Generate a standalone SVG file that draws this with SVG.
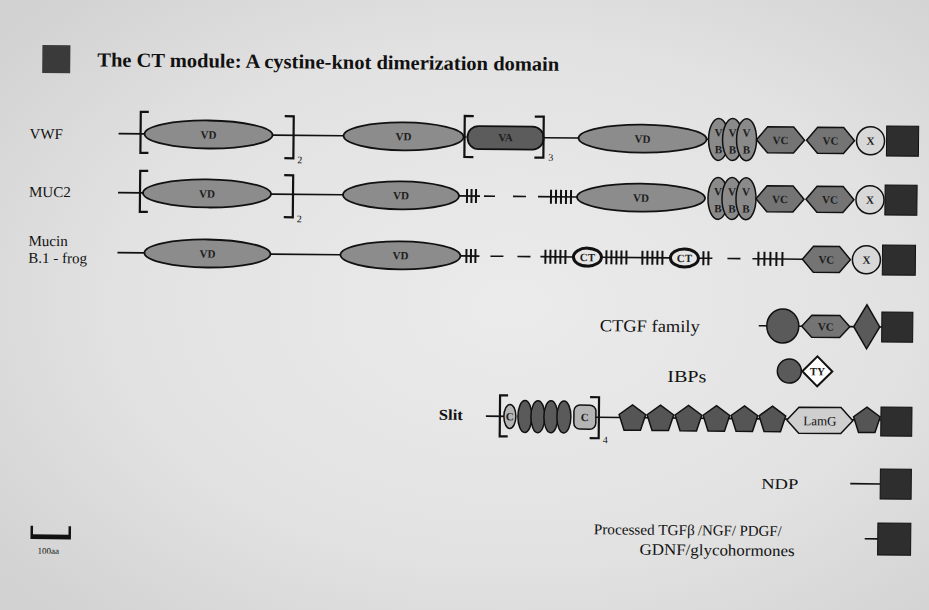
<svg xmlns="http://www.w3.org/2000/svg" xmlns:xlink="http://www.w3.org/1999/xlink" width="929" height="610" viewBox="0 0 929 610">
<style>
.ln{stroke:#111;stroke-width:1.6;fill:none}
.tk{stroke:#111;stroke-width:2;fill:none}
.br{stroke:#111;stroke-width:2.2;fill:none}
.vd{fill:#8c8c8c;stroke:#111;stroke-width:1.8}
.va{fill:#5c5c5c;stroke:#111;stroke-width:1.8}
.vb{fill:#8a8a8a;stroke:#111;stroke-width:1.5}
.vc{fill:#747474;stroke:#111;stroke-width:1.5}
.cx{fill:#d8d8d8;stroke:#111;stroke-width:1.5}
.sq{fill:#2e2e2e;stroke:#111;stroke-width:1}
.dk{fill:#5a5a5a;stroke:#111;stroke-width:1.5}
.lt{fill:#b4b4b4;stroke:#111;stroke-width:1.5}
.ctk{fill:#e6e6e6;stroke:#111;stroke-width:3}
.t{font-family:"Liberation Serif","Times New Roman",serif;fill:#111}
.lab{font-size:15px}
.in{font-size:11px;font-weight:bold;text-anchor:middle;fill:#1e1e1e}
.sub{font-size:10px}
</style>
<defs>
<polygon id="pent" points="0,-12.7 13.3,-3 8.2,12.7 -8.2,12.7 -13.3,-3" fill="#555" stroke="#111" stroke-width="1.5"/>
<radialGradient id="bg" cx="0.55" cy="0.5" r="0.7">
<stop offset="0" stop-color="#ebebeb"/>
<stop offset="0.6" stop-color="#e2e2e2"/>
<stop offset="1" stop-color="#d2d2d2"/>
</radialGradient>
</defs>
<rect width="929" height="610" fill="url(#bg)"/>
<g transform="rotate(0.55 470 300)">
<g id="title">
<rect x="40" y="49" width="28" height="28" fill="#3a3a3a"/>
<text class="t" x="95" y="70" font-size="20" font-weight="bold" textLength="462" lengthAdjust="spacingAndGlyphs">The CT module: A cystine-knot dimerization domain</text>
</g>
<g id="connectors">
<path class="ln" d="M117,137H143 M271,137H342 M462,137H465 M542,137H577 M705,137H707"/>
<path class="ln" d="M117,196H142 M270,196H342 M458,196H479 M537,196H576"/>
<path class="ln" d="M483,196H494 M512,196H525"/>
<path class="tk" d="M466,189V203 M470.5,189V203 M475,189V203 M550,189V203 M555,189V203 M560,189V203 M565,189V203 M570,189V203"/>
<path class="ln" d="M117,256H144 M270,256H340 M460,256H479 M540,256H573 M601,256H670 M698,256H712 M752,256H802"/>
<path class="ln" d="M490,256H503 M517,256H530 M727,256H740"/>
<path class="tk" d="M466,249V263 M470.5,249V263 M475,249V263 M545,249V263 M550,249V263 M555,249V263 M560,249V263 M565,249V263 M606,249V263 M611,249V263 M616,249V263 M621,249V263 M626,249V263 M642,249V263 M647,249V263 M652,249V263 M657,249V263 M662,249V263 M703,249V263 M708,249V263 M758,249V263 M764,249V263 M770,249V263 M776,249V263 M782,249V263"/>
<path class="ln" d="M759,323H803 M850,323H882"/>
<path class="ln" d="M487,416H510 M597,416H882"/>
<path class="ln" d="M852,480H882 M867,535H880"/>
</g>
<g id="vwf">
<text class="t lab" x="28" y="143">VWF</text>
<path class="br" d="M147,115H139V156H147"/>
<ellipse class="vd" cx="207" cy="137" rx="64" ry="14"/><text class="t in" x="207" y="141">VD</text>
<path class="br" d="M283,118H292V160H283"/>
<text class="t sub" x="296" y="165">2</text>
<ellipse class="vd" cx="402" cy="137" rx="60" ry="14"/><text class="t in" x="402" y="141">VD</text>
<path class="br" d="M472,116H463V157H472"/>
<rect class="va" x="466" y="126" width="76" height="23" rx="11"/><text class="t in" x="504" y="141">VA</text>
<path class="br" d="M533,116H542V157H533"/>
<text class="t sub" x="547" y="160">3</text>
<ellipse class="vd" cx="641" cy="137" rx="64" ry="14"/><text class="t in" x="641" y="141">VD</text>
<ellipse class="vb" cx="717" cy="137" rx="10" ry="21"/><ellipse class="vb" cx="731" cy="137" rx="10" ry="21"/><ellipse class="vb" cx="745" cy="137" rx="10" ry="21"/>
<text class="t in" x="717" y="134">V</text><text class="t in" x="731" y="134">V</text><text class="t in" x="745" y="134">V</text>
<text class="t in" x="717" y="151">B</text><text class="t in" x="731" y="151">B</text><text class="t in" x="745" y="151">B</text>
<polygon class="vc" points="755,137 766,124 792,124 803,137 792,150 766,150"/><text class="t in" x="779" y="141">VC</text>
<polygon class="vc" points="805,137 816,124 842,124 853,137 842,150 816,150"/><text class="t in" x="829" y="141">VC</text>
<circle class="cx" cx="869" cy="137" r="14"/><text class="t in" x="869" y="141">X</text>
<rect class="sq" x="885" y="122" width="32" height="30"/>
</g>
<g id="muc2">
<text class="t lab" x="28" y="201">MUC2</text>
<path class="br" d="M147,174H139V215H147"/>
<ellipse class="vd" cx="206" cy="196" rx="64" ry="14"/><text class="t in" x="206" y="200">VD</text>
<path class="br" d="M283,177H292V219H283"/>
<text class="t sub" x="296" y="224">2</text>
<ellipse class="vd" cx="400" cy="196" rx="58" ry="14"/><text class="t in" x="400" y="200">VD</text>
<ellipse class="vd" cx="640" cy="196" rx="64" ry="14"/><text class="t in" x="640" y="200">VD</text>
<ellipse class="vb" cx="717" cy="196" rx="10" ry="21"/><ellipse class="vb" cx="731" cy="196" rx="10" ry="21"/><ellipse class="vb" cx="745" cy="196" rx="10" ry="21"/>
<text class="t in" x="717" y="193">V</text><text class="t in" x="731" y="193">V</text><text class="t in" x="745" y="193">V</text>
<text class="t in" x="717" y="210">B</text><text class="t in" x="731" y="210">B</text><text class="t in" x="745" y="210">B</text>
<polygon class="vc" points="755,196 766,183 792,183 803,196 792,209 766,209"/><text class="t in" x="779" y="200">VC</text>
<polygon class="vc" points="805,196 816,183 842,183 853,196 842,209 816,209"/><text class="t in" x="829" y="200">VC</text>
<circle class="cx" cx="869" cy="196" r="14"/><text class="t in" x="869" y="200">X</text>
<rect class="sq" x="884" y="181" width="32" height="30"/>
</g>
<g id="mucin">
<text class="t lab" x="28" y="250">Mucin</text>
<text class="t lab" x="28" y="267">B.1 - frog</text>
<ellipse class="vd" cx="207" cy="256" rx="63" ry="14"/><text class="t in" x="207" y="260">VD</text>
<ellipse class="vd" cx="400" cy="256" rx="60" ry="14"/><text class="t in" x="400" y="260">VD</text>
<ellipse class="ctk" cx="587" cy="256" rx="14" ry="9"/><text class="t in" x="587" y="260" font-size="10">CT</text>
<ellipse class="ctk" cx="684" cy="256" rx="14" ry="9"/><text class="t in" x="684" y="260" font-size="10">CT</text>
<polygon class="vc" points="802,256 813,243 839,243 850,256 839,269 813,269"/><text class="t in" x="826" y="260">VC</text>
<circle class="cx" cx="866" cy="256" r="14"/><text class="t in" x="866" y="260">X</text>
<rect class="sq" x="882" y="241" width="33" height="30"/>
</g>
<g id="ctgf">
<text class="t" x="600" y="330" font-size="17" textLength="100" lengthAdjust="spacingAndGlyphs">CTGF family</text>
<ellipse class="dk" cx="783" cy="323" rx="16" ry="17" fill="#646464"/>
<polygon class="vc" points="802,323 812,312 840,312 850,323 840,334 812,334"/><text class="t in" x="826" y="327">VC</text>
<polygon class="dk" points="854,323 867,301 880,323 867,345"/>
<rect class="sq" x="882" y="308" width="31" height="30"/>
</g>
<g id="ibps">
<text class="t" x="668" y="380" font-size="17" textLength="39" lengthAdjust="spacingAndGlyphs">IBPs</text>
<ellipse class="dk" cx="790" cy="368" rx="12" ry="12"/>
<polygon points="803,368 818,353 833,368 818,383" fill="#fff" stroke="#111" stroke-width="2"/>
<text class="t in" x="818" y="372" font-size="10">TY</text>
</g>
<g id="slit">
<text class="t" x="440" y="420" font-size="15" font-weight="bold" textLength="24" lengthAdjust="spacingAndGlyphs">Slit</text>
<path class="br" d="M509,395H501V436H509"/>
<ellipse class="lt" cx="511" cy="416" rx="6" ry="12"/><text class="t in" x="511" y="420" font-size="9">C</text>
<ellipse class="dk" cx="526" cy="416" rx="7" ry="16"/><ellipse class="dk" cx="539" cy="416" rx="7" ry="16"/><ellipse class="dk" cx="552" cy="416" rx="7" ry="16"/><ellipse class="dk" cx="565" cy="416" rx="7" ry="16"/>
<rect class="lt" x="575" y="404" width="22" height="24" rx="6"/><text class="t in" x="586" y="420">C</text>
<path class="br" d="M591,396H600V437H591"/>
<text class="t sub" x="604" y="442">4</text>
<use xlink:href="#pent" href="#pent" x="633.5" y="416"/>
<use xlink:href="#pent" href="#pent" x="661.5" y="416"/>
<use xlink:href="#pent" href="#pent" x="689.5" y="416"/>
<use xlink:href="#pent" href="#pent" x="717.5" y="416"/>
<use xlink:href="#pent" href="#pent" x="745.5" y="416"/>
<use xlink:href="#pent" href="#pent" x="773.5" y="416"/>
<polygon points="788,417 800,404 842,404 854,417 842,430 800,430" fill="#cfcfcf" stroke="#111" stroke-width="1.5"/>
<text class="t" x="821" y="422" font-size="13" text-anchor="middle">LamG</text>
<use xlink:href="#pent" href="#pent" x="868" y="416"/>
<rect class="sq" x="882" y="403" width="31" height="29"/>
</g>
<g id="ndp">
<text class="t" x="763" y="486" font-size="15" textLength="37" lengthAdjust="spacingAndGlyphs">NDP</text>
<rect class="sq" x="882" y="465" width="31" height="30"/>
</g>
<g id="processed">
<text class="t" x="596" y="533" font-size="15"><tspan textLength="101" lengthAdjust="spacingAndGlyphs">Processed TGFβ</tspan><tspan x="700" textLength="84" lengthAdjust="spacingAndGlyphs">/NGF/ PDGF/</tspan></text>
<text class="t" x="642" y="553" font-size="16" textLength="155" lengthAdjust="spacingAndGlyphs">GDNF/glycohormones</text>
<rect class="sq" x="880" y="519" width="33" height="32"/>
</g>
<g id="scale">
<path d="M34,530V542H72V530" fill="none" stroke="#111" stroke-width="2.5"/>
<path d="M34,540H72" stroke="#111" stroke-width="3"/>
<text class="t" x="40" y="558" font-size="9">100aa</text>
</g>
</g>
</svg>
